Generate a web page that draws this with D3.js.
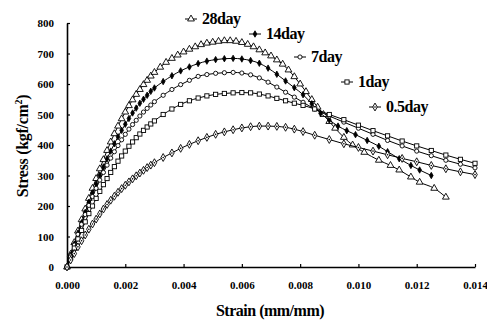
<!DOCTYPE html>
<html><head><meta charset="utf-8">
<script src="https://cdn.jsdelivr.net/npm/d3@7"></script>
<style>
html,body{margin:0;padding:0;background:#fff;}
svg{display:block;}
text{font-family:"Liberation Serif","Times New Roman",serif;font-weight:bold;fill:#000;}
</style></head>
<body>
<script>
// ---- data ----
const seriesNames = ["28day","14day","7day","1day","0.5day"];
const xTicks = [0,0.002,0.004,0.006,0.008,0.010,0.012,0.014];
const yTicks = [0,100,200,300,400,500,600,700,800];

const strainRise = [0,0.000125,0.00025,0.000375,0.0005,0.000625,0.00075,0.000875,0.001,0.001125,0.00125,0.001375,0.0015,0.001625,0.00175,0.001875,0.002,0.002125,0.00225,0.002375,0.0025,0.002625,0.00275,0.002875,0.003];

const strain28 = strainRise.concat([0.0032,0.0034,0.0036,0.0038,0.004,0.0042,0.0044,0.0046,0.0048,0.005,0.0052,0.0054,0.0056,0.0058,0.006,0.0062,0.0064,0.0066,0.0068,0.007,0.0072,0.0074,0.0076,0.0078,0.008,0.0082,0.0084,0.0086,0.0088,0.009,0.0092,0.0095,0.0098,0.0102,0.0107,0.0111,0.0114,0.0118,0.0121,0.0126,0.013]);
const stress28 = [0,42,80,118,155,190,225,258,290,322,352,382,410,437,462,486,508,529,548,566,582,598,612,626,638,
  655,671,684,695,705,714,722,729,734,737,740,742,742,740,736,730,722,712,702,692,679,665,646,624,600,575,549,524,500,477,455,425,400,376,350,333,318,295,278,258,229];

const strain14 = strainRise.concat([0.0033,0.0036,0.0039,0.0042,0.0045,0.0048,0.0051,0.0054,0.0057,0.006,0.0063,0.0066,0.0069,0.0072,0.0075,0.0078,0.0081,0.0084,0.0087,0.009,0.0093,0.0096,0.0099,0.0103,0.0107,0.011,0.0114,0.0118,0.0121,0.0125]);
const stress14 = [0,39,75,111,145,179,212,243,272,301,328,355,380,404,427,448,468,487,505,521,537,550,563,576,587,
  608,627,643,656,667,675,680,683,684,682,677,668,652,632,610,588,565,535,504,482,462,447,434,415,396,378,355,333,318,300];

const strain7 = strainRise.concat([0.0033,0.0036,0.0039,0.0042,0.0045,0.0048,0.0051,0.0054,0.0057,0.006,0.0063,0.0066,0.0069,0.0072,0.0075,0.0078,0.0081,0.0085,0.009,0.0095,0.01,0.0105,0.011,0.0115,0.012,0.0125,0.013,0.0135,0.014]);
const stress7 = [0,37,72,107,140,172,202,231,258,285,310,334,357,378,398,417,435,452,467,481,495,508,520,531,542,
  563,582,598,612,625,631,635,637,638,636,630,620,606,590,573,557,540,518,495,475,455,435,415,397,380,365,350,337,325];

const strain1 = strainRise.concat([0.0033,0.0036,0.0039,0.0042,0.0045,0.0048,0.0051,0.0054,0.0057,0.006,0.0063,0.0066,0.0069,0.0072,0.0075,0.0078,0.0081,0.0085,0.009,0.0095,0.01,0.0105,0.011,0.0115,0.012,0.0125,0.013,0.0135,0.014]);
const stress1 = [0,32,62,92,120,148,175,200,225,248,270,290,310,329,347,364,380,396,410,424,436,448,459,469,479,
  500,518,533,545,554,561,566,569,571,572,571,567,561,553,545,537,530,518,500,483,465,447,430,413,397,382,367,353,340];

const strain05 = strainRise.concat([0.0033,0.0036,0.0039,0.0042,0.0045,0.0048,0.0051,0.0054,0.0057,0.006,0.0063,0.0066,0.0069,0.0072,0.0075,0.0078,0.0081,0.0085,0.009,0.0095,0.01,0.0105,0.011,0.0115,0.012,0.0125,0.013,0.0135,0.014]);
const stress05 = [0,23,44,66,86,105,124,141,157,174,190,205,219,232,245,257,268,279,289,299,308,317,326,334,342,
  359,374,389,402,414,425,435,443,450,456,460,462,462,461,458,452,444,432,418,404,392,380,368,356,345,333,322,312,303];

const strainSets = [strain28, strain14, strain7, strain1, strain05];
const stressSets = [stress28, stress14, stress7, stress1, stress05];
const markerTypes = ["triangle","dash","circle","square","diamond"];
const legendPos = [[191,19],[255,34],[300,57],[347,82],[375,107]];

// ---- layout ----
const W = 487, H = 321;
const svg = d3.select("body").append("svg").attr("width", W).attr("height", H);

const x = d3.scaleLinear().domain([0, 0.014]).range([67, 475]);
const y = d3.scaleLinear().domain([0, 800]).range([267, 23]);

const xAxis = d3.axisBottom(x).tickValues(xTicks).tickFormat(d3.format(".3f")).tickSizeInner(-3).tickSizeOuter(0).tickPadding(14);
const yAxis = d3.axisLeft(y).tickValues(yTicks).tickFormat(d3.format("d")).tickSizeInner(-3).tickSizeOuter(0).tickPadding(13);

const gx = svg.append("g").attr("transform", "translate(0,267)").call(xAxis);
const gy = svg.append("g").attr("transform", "translate(67,0)").call(yAxis);
[gx, gy].forEach(g => {
  g.select(".domain").attr("stroke", "#000").attr("stroke-width", 1.6);
  g.selectAll(".tick line").attr("stroke", "#000").attr("stroke-width", 1.2);
  g.selectAll(".tick text").style("font-family", "'Liberation Serif',serif").style("font-weight", "bold").style("font-size", "11px").attr("fill", "#000");
});

function drawMarker(g, type, cx, cy) {
  if (type === "triangle") {
    g.append("path").attr("d", d3.symbol().type(d3.symbolTriangle).size(20)()).attr("transform", `translate(${cx},${cy})`)
      .attr("fill", "#fff").attr("stroke", "#000").attr("stroke-width", 0.9);
  } else if (type === "dash") {
    g.append("path").attr("d", d3.symbol().type(d3.symbolDiamond).size(12)()).attr("transform", `translate(${cx},${cy})`)
      .attr("fill", "#000").attr("stroke", "#000").attr("stroke-width", 0.8);
  } else if (type === "circle") {
    g.append("circle").attr("cx", cx).attr("cy", cy).attr("r", 2.1)
      .attr("fill", "#fff").attr("stroke", "#000").attr("stroke-width", 0.9);
  } else if (type === "square") {
    g.append("rect").attr("x", cx - 2.1).attr("y", cy - 2.1).attr("width", 4.2).attr("height", 4.2)
      .attr("fill", "#fff").attr("stroke", "#000").attr("stroke-width", 0.9);
  } else {
    g.append("path").attr("d", d3.symbol().type(d3.symbolDiamond).size(18)()).attr("transform", `translate(${cx},${cy})`)
      .attr("fill", "#fff").attr("stroke", "#000").attr("stroke-width", 0.9);
    g.append("circle").attr("cx", cx).attr("cy", cy).attr("r", 0.8).attr("fill", "#000");
  }
}

const line = d3.line().x(d => x(d[0])).y(d => y(d[1])).curve(d3.curveMonotoneX);

seriesNames.forEach((name, i) => {
  const pts = strainSets[i].map((s, j) => [s, stressSets[i][j]]);
  const g = svg.append("g");
  g.append("path").datum(pts).attr("d", line).attr("fill", "none").attr("stroke", "#000").attr("stroke-width", 1);
  pts.forEach(p => drawMarker(g, markerTypes[i], x(p[0]), y(p[1])));
});

seriesNames.forEach((name, i) => {
  const [lx, ly] = legendPos[i];
  const g = svg.append("g");
  g.append("line").attr("x1", lx - 6).attr("x2", lx + 6).attr("y1", ly).attr("y2", ly).attr("stroke", "#000").attr("stroke-width", 1);
  drawMarker(g, markerTypes[i], lx, ly);
  g.append("text").attr("x", lx + 11).attr("y", ly + 5).style("font-size", "16px").style("letter-spacing", "-0.5px").text(name);
});

svg.append("text").attr("x", 270).attr("y", 316).attr("text-anchor", "middle").style("font-size", "16px").style("letter-spacing", "-0.5px").text("Strain (mm/mm)");
const yt = svg.append("text").attr("transform", "translate(28,146) rotate(-90)").attr("text-anchor", "middle").style("font-size", "16px").style("letter-spacing", "-0.3px");
yt.append("tspan").text("Stress (kgf/cm");
yt.append("tspan").attr("dy", -6).style("font-size", "10px").text("2");
yt.append("tspan").attr("dy", 6).text(")");
</script>
</body></html>
